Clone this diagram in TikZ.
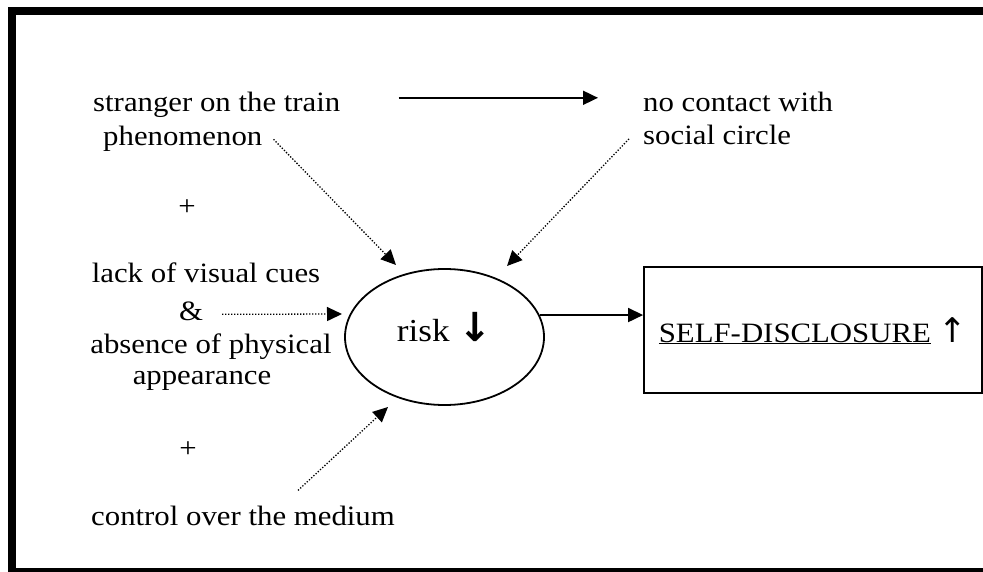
\documentclass[tikz,border=0pt]{standalone}
\usepackage{fontspec}
\setmainfont{Liberation Serif}[FakeStretch=1.1]
\newfontfamily\symfont{DejaVu Sans}
\usetikzlibrary{arrows.meta,shapes.geometric}

\begin{document}
\begin{tikzpicture}[x=1pt,y=-1pt,
		txt/.style={inner sep=0pt,font=\fontsize{28}{34}\selectfont},
		solidarr/.style={line width=1.8pt,-{Triangle[length=15pt,width=14pt]}},
		dotarr/.style={line width=1.3pt,dash pattern=on 1.3pt off 1.7pt,-{Triangle[length=15pt,width=14pt]}}]
		\useasboundingbox (0,0) rectangle (983,572);
		\clip (0,0) rectangle (983,572);
		%%  Frame  %%%%%%%%
		\draw[line width=8pt] (12,11) rectangle (995,572);
		%%  Causes  %%%%%%%%
		\node[txt,anchor=base west] (stranger) at (93,112) {stranger on the train};
		\node[txt,anchor=base west] (phen) at (103,146) {phenomenon};
		\node[txt,anchor=base west] (nocontact) at (643,112) {no contact with};
		\node[txt,anchor=base west] (social) at (643,145) {social circle};
		\node[txt] (plusA) at (187,208) {+};
		\node[txt,anchor=base] (lack) at (206,283) {lack of visual cues};
		\node[txt,anchor=base] (amp) at (191,320) {\&};
		\node[txt,anchor=base] (absence) at (211,353) {absence of physical};
		\node[txt,anchor=base] (appear) at (202,384) {appearance};
		\node[txt] (plusB) at (188,450) {+};
		\node[txt,anchor=base west] (control) at (91,525) {control over the medium};
		%%  Risk and outcome  %%%%%%%%
		\node[draw,ellipse,line width=1.8pt,minimum width=199pt,minimum height=136pt,inner sep=0pt,
			text height=20pt,text depth=12pt,font=\fontsize{32}{38}\selectfont] (risk) at (444.5,337)
			{risk {\symfont\bfseries\fontsize{40}{40}\selectfont ↓}};
		\node[draw,txt,line width=1.8pt,minimum width=338pt,minimum height=126pt,
			text height=24pt,text depth=0pt] (self) at (813,330)
			{\underline{SELF-DISCLOSURE} {\symfont\fontsize{34}{34}\selectfont ↑}};
		%%  Arrows  %%%%%%%%
		\coordinate (tipA) at (396,265);
		\coordinate (tipB) at (507,266);
		\coordinate (tipC) at (342,314);
		\coordinate (tipD) at (388,407);
		\draw[solidarr,shorten >=45pt] ([xshift=58pt,yshift=7.5pt]stranger.east) coordinate (st) -- (st -| nocontact.west);
		\draw[dotarr] ([xshift=11pt]phen.east) -- (tipA);
		\draw[dotarr] ([xshift=-14pt,yshift=-3.5pt]social.west) -- (tipB);
		\draw[dotarr] ([xshift=19pt,yshift=-3.5pt]amp.east) -- (tipC);
		\draw[dotarr] ([xshift=55pt,yshift=15pt]control.north) -- (tipD);
		\draw[solidarr] (risk.13) -- (risk.13 -| self.west);
\end{tikzpicture}
\end{document}
